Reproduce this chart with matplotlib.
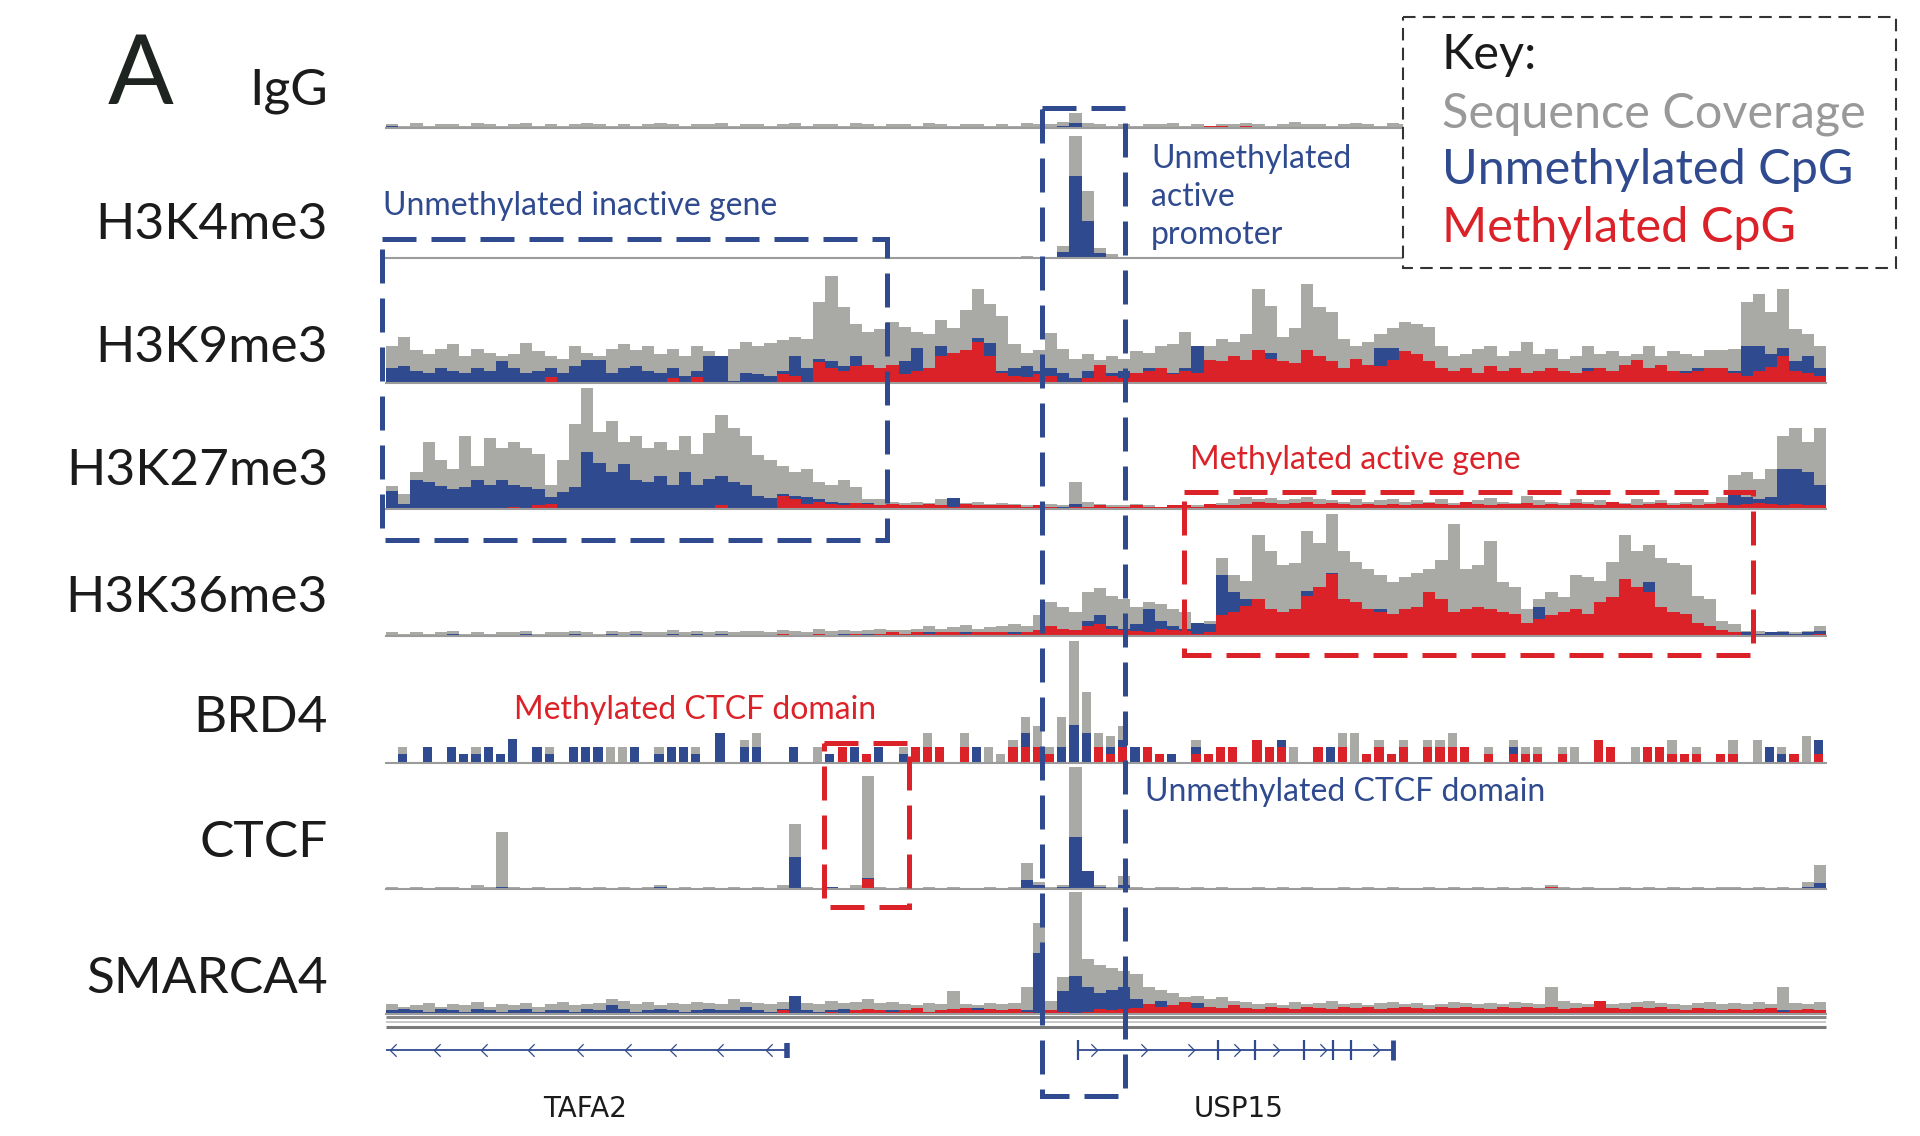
import matplotlib
matplotlib.use("Agg")
import matplotlib.pyplot as plt
from matplotlib.patches import Rectangle
from matplotlib.path import Path

GRAY = "#a9a9a5"
BLUE = "#2f4a8e"
RED = "#dc2229"
FONT = ["Lato", "DejaVu Sans"]

# ---- data: per-bin heights (% of track height), 118 bins across the region ----
track_names = ["IgG", "H3K4me3", "H3K9me3", "H3K27me3", "H3K36me3", "BRD4", "CTCF", "SMARCA4"]

igg_cov = [3,2,4,2,3,3,2,4,3,2, 3,4,2,3,2,3,4,3,2,3, 2,3,4,3,2,3,3,4,2,3,
           3,2,3,4,2,3,3,2,4,3, 2,3,3,2,4,3,2,3,3,2, 3,2,4,3,3,5,12,4,3,2,
           3,2,3,3,4,2,3,2,3,3, 4,3,2,3,5,3,3,2,3,4, 3,2,4,3,2,3,3,2,3,4,
           3,2,3,3,2,4,3,3,2,3, 3,2,3,4,3,2,3,3,2,3, 3,2,3,3,2,3,3,3]
igg_unm = [2,1,1,0,1,0,1,1,0,1, 0,1,0,1,1,0,1,0,1,0, 1,0,1,1,0,1,0,1,0,1,
           1,0,1,0,1,1,0,1,0,1, 0,1,0,1,1,0,1,0,1,0, 0,1,0,1,0,2,4,1,0,0,
           1,0,1,0,0,1,0,1,0,1, 0,1,0,1,0,0,1,0,1,0, 1,0,1,0,1,0,0,1,0,1,
           0,1,0,1,0,1,0,0,1,0, 1,0,0,1,0,1,0,1,0,0, 1,0,1,0,1,0,1,0]
igg_met = [0,0,0,0,0,1,0,0,0,0, 0,0,0,0,1,0,0,0,0,0, 0,0,0,0,0,0,1,0,0,0,
           0,0,0,0,0,0,0,0,0,0, 0,0,1,0,0,0,0,0,1,0, 0,0,1,0,0,0,1,1,0,0,
           0,1,0,0,1,0,0,2,2,1, 2,0,1,0,1,0,0,1,0,0, 1,0,0,1,0,0,1,0,0,1,
           0,0,1,0,0,1,0,0,1,0, 0,1,0,0,1,0,0,1,0,0, 0,1,0,0,1,0,0,1]

k4_cov = [0,0,0,0,0,0,0,0,0,0, 0,0,0,0,0,0,0,0,0,0, 0,0,0,0,0,0,0,0,0,0,
          0,0,0,0,0,0,0,0,0,0, 0,0,0,0,0,0,0,0,0,0, 0,0,2,1,0,10,100,55,8,3,
          0,1,0,0,0,0,0,1,0,0, 0,1,1,0,0,0,0,0,0,0, 0,0,0,0,0,0,0,0,0,0,
          0,0,0,0,0,0,0,0,0,0, 0,0,0,0,0,0,0,0,0,0, 0,0,0,0,0,0,0,0]
k4_unm = [0,0,0,0,0,0,0,0,0,0, 0,0,0,0,0,0,0,0,0,0, 0,0,0,0,0,0,0,0,0,0,
          0,0,0,0,0,0,0,0,0,0, 0,0,0,0,0,0,0,0,0,0, 0,0,1,0,0,5,67,30,4,1,
          0,0,0,0,0,0,0,0,0,0, 0,0,0,0,0,0,0,0,0,0, 0,0,0,0,0,0,0,0,0,0,
          0,0,0,0,0,0,0,0,0,0, 0,0,0,0,0,0,0,0,0,0, 0,0,0,0,0,0,0,0]
k4_met = [0,0,0,0,0,0,0,0,0,0, 0,0,0,0,0,0,0,0,0,0, 0,0,0,0,0,0,0,0,0,0,
          0,0,0,0,0,0,0,0,0,0, 0,0,0,0,0,0,0,0,0,0, 0,0,0,0,0,0,0,0,1,1,
          0,0,0,0,0,0,0,0,0,0, 0,0,0,0,0,0,0,0,0,0, 0,0,0,0,0,0,0,0,0,0,
          0,0,0,0,0,0,0,0,0,0, 0,0,0,0,0,0,0,0,0,0, 0,0,0,0,0,0,0,0]

k9_cov = [30,38,27,24,28,32,22,28,25,22, 24,33,26,22,20,30,25,22,28,32,
          27,30,24,28,22,30,26,18,28,34, 30,33,35,38,36,66,88,62,48,42,
          44,50,46,42,40,52,45,60,77,65, 55,32,25,27,41,28,20,24,19,22,
          20,26,25,30,32,42,30,30,36,34, 40,77,63,38,45,81,62,58,36,30,
          34,40,45,50,48,46,30,22,24,28, 30,22,26,34,24,28,20,22,30,24,
          26,22,24,30,22,26,24,22,27,27, 28,66,73,58,77,44,40,30]
k9_unm = [12,14,10,8,12,10,8,12,10,18, 12,8,10,12,8,14,19,19,8,12,
          14,10,8,12,6,10,22,22,2,8, 7,6,10,22,12,20,18,14,22,12,
          10,12,18,29,10,30,16,22,37,33, 10,12,14,10,12,8,4,10,12,8,
          10,8,12,10,8,12,30,10,8,14, 12,18,25,10,8,27,12,10,6,8,
          10,29,29,20,14,10,8,6,4,6, 5,6,12,6,4,8,4,6,12,6,
          4,6,4,8,6,4,10,12,10,8, 10,30,30,24,29,18,22,12]
k9_met = [0,0,0,0,0,0,0,0,0,0, 0,0,0,5,0,0,0,0,0,0,
          0,0,0,4,0,5,0,0,0,0, 0,0,7,6,0,17,12,10,14,15,
          12,15,7,10,12,22,25,27,34,22, 8,6,5,7,6,0,0,4,15,6,
          4,8,10,12,7,10,8,19,18,22, 19,27,20,18,16,27,22,18,12,20,
          15,14,19,26,24,18,12,10,12,8, 14,10,12,8,10,12,10,8,10,12,
          10,15,19,12,15,10,8,10,12,12, 8,6,10,13,22,10,8,6]

k27_cov = [19,12,30,55,40,33,60,35,58,50, 55,50,45,20,40,70,99,63,72,55,
           60,50,55,48,60,45,62,77,66,60, 44,40,35,30,33,22,20,24,18,8,
           8,6,5,6,5,8,9,5,6,4, 5,4,3,3,4,3,22,6,4,3,
           3,4,3,2,3,2,3,4,5,8, 10,8,9,7,8,10,8,7,6,8,
           6,7,8,6,7,6,8,5,6,7, 9,6,5,11,7,6,5,8,6,7,
           6,5,8,6,7,5,6,8,6,10, 28,30,25,33,60,66,55,66]
k27_unm = [15,4,24,22,19,16,18,24,20,24, 20,18,16,10,14,18,47,38,30,37,
           24,22,27,20,30,20,25,27,22,20, 11,9,12,11,10,8,6,5,4,5,
           3,2,2,3,2,3,9,2,2,2, 2,2,2,2,1,2,4,2,1,1,
           1,2,1,1,2,1,1,1,2,2, 2,1,2,1,2,1,1,2,1,2,
           1,2,1,1,2,1,1,2,1,1, 2,1,1,2,1,1,1,2,1,1,
           1,1,2,1,1,1,2,1,2,2, 12,10,8,10,33,33,30,20]
k27_met = [0,0,0,0,0,0,0,0,0,0, 2,0,3,4,0,0,0,0,0,0,
           0,0,0,0,0,0,0,3,0,0, 0,0,11,8,4,6,4,3,5,4,
           3,4,3,3,4,3,2,4,3,3, 3,3,2,3,2,1,2,2,3,2,
           2,3,2,2,3,3,2,4,3,3, 4,6,5,4,5,6,4,5,4,3,
           4,3,4,3,4,5,4,3,6,4, 3,4,4,5,3,4,3,5,4,3,
           6,4,3,4,5,3,4,3,4,5, 3,4,5,4,3,4,3,3]

k36_cov = [3,2,3,2,3,4,2,3,2,3, 3,4,2,3,3,4,3,2,4,3,
           4,3,3,5,3,4,3,4,3,4, 4,3,5,4,3,6,4,5,4,5,
           6,5,5,6,8,6,7,9,6,7, 8,10,8,17,28,24,20,36,39,33,
           30,24,28,26,22,20,11,12,64,50, 45,83,70,58,60,86,76,100,70,61,
           55,50,44,48,52,55,62,92,55,58, 78,44,40,22,30,36,32,50,48,45,
           61,83,70,75,64,60,58,33,30,12, 10,4,4,3,4,3,4,8]
k36_unm = [1,1,1,1,1,2,1,1,1,1, 1,2,1,1,1,2,1,1,2,1,
           2,1,1,2,1,2,1,2,1,1, 1,1,2,1,1,2,1,2,1,2,
           1,2,1,2,3,2,2,3,2,2, 2,3,2,4,6,3,4,12,17,8,
           6,10,22,12,8,6,11,10,50,36, 30,22,14,10,12,37,30,52,20,12,
           14,22,10,12,14,10,12,10,8,8, 6,8,6,6,24,12,8,6,10,28,
           16,14,20,44,20,18,8,6,4,3, 3,3,2,3,3,2,3,4]
k36_met = [0,1,0,1,0,0,1,0,0,0, 0,1,0,0,1,0,0,1,0,0,
           0,1,0,0,1,0,1,0,0,1, 1,0,2,1,0,2,1,1,2,1,
           2,3,2,3,2,3,3,2,3,3, 3,2,3,5,8,6,5,8,10,6,
           5,4,3,6,5,4,2,3,17,20, 25,30,22,20,22,33,40,51,30,28,
           22,20,18,22,24,36,30,20,22,24, 22,20,18,11,14,17,20,22,18,28,
           32,47,40,36,24,20,18,11,8,5, 3,1,1,1,1,1,1,2]

brd4_cov = [0,13,0,13,0,13,7,13,13,7, 20,0,13,13,0,13,13,13,13,13,
            13,0,13,13,13,13,0,25,0,19, 25,0,0,13,0,13,7,13,13,7,
            13,0,13,13,25,13,0,25,13,13, 7,19,38,30,13,38,100,58,25,22,
            30,13,13,7,7,0,19,7,13,13, 0,19,13,19,13,0,13,13,25,25,
            7,19,7,19,0,19,19,25,13,0, 13,0,19,13,13,0,13,13,0,19,
            13,0,13,13,13,19,7,13,0,7, 19,0,19,13,13,7,22,19]
brd4_unm = [0,7,0,13,0,13,7,7,13,7, 20,0,13,7,0,13,13,13,0,0,
            13,0,7,13,13,7,0,25,0,13, 13,0,0,13,0,0,7,0,13,0,
            13,0,7,0,13,7,0,0,13,0, 0,0,25,0,0,13,31,25,13,13,
            19,13,0,0,7,0,13,0,0,7, 0,0,7,19,0,0,0,13,0,0,
            0,0,0,0,0,0,0,0,0,0, 7,0,13,0,0,0,7,0,0,0,
            0,0,0,0,0,0,0,0,0,0, 0,0,0,13,7,0,0,19]
brd4_met = [0,0,0,0,0,0,0,0,0,0, 0,0,0,0,0,0,0,0,0,0,
            0,0,0,0,0,0,0,0,0,0, 0,0,0,0,0,0,0,13,0,7,
            0,0,0,13,13,13,0,13,0,0, 0,13,13,13,7,0,0,0,13,7,
            13,0,13,7,0,0,7,7,13,13, 0,19,13,13,0,0,13,0,13,0,
            7,13,7,13,0,13,13,13,13,0, 7,0,7,7,7,0,7,0,0,19,
            13,0,0,13,13,7,7,7,0,7, 7,0,0,0,0,7,0,7]

ctcf_cov = [2,1,2,1,2,2,1,3,2,47, 2,1,2,1,1,2,1,2,1,2,
            1,2,3,1,2,1,2,1,2,1, 2,1,3,53,2,1,2,1,3,93,
            2,1,2,1,2,1,2,1,1,2, 1,2,21,6,2,3,100,15,3,2,
            11,2,1,2,2,1,2,1,2,1, 1,2,1,2,1,2,1,1,2,1,
            2,1,2,1,1,2,1,2,1,2, 1,2,1,2,1,3,2,1,2,1,
            1,2,1,2,1,2,1,2,1,2, 2,1,2,1,2,1,6,20]
ctcf_unm = [1,0,1,0,1,0,1,0,1,2, 0,1,0,1,0,0,1,0,1,0,
            1,0,2,0,1,0,1,0,1,0, 1,0,1,26,1,0,2,0,1,9,
            1,0,1,0,1,0,1,0,1,0, 0,1,7,3,1,2,43,15,2,1,
            3,1,0,1,1,0,1,0,1,0, 0,1,0,1,0,0,1,0,0,1,
            0,0,1,0,0,1,0,0,1,0, 0,1,0,0,0,1,0,0,1,0,
            0,1,0,0,1,0,0,1,0,0, 1,0,1,0,1,0,2,5]
ctcf_met = [0,0,0,0,0,0,0,0,0,0, 0,0,0,0,0,0,0,0,0,0,
            0,0,0,0,0,0,0,0,0,0, 0,0,1,0,0,0,0,0,0,8,
            0,0,0,0,1,0,0,1,0,1, 1,0,0,1,0,1,0,0,0,1,
            0,1,0,1,0,1,0,1,0,1, 1,0,1,0,1,0,1,0,1,0,
            1,0,1,0,1,1,0,1,0,1, 0,1,0,1,0,2,1,0,1,0,
            1,0,1,0,1,0,1,0,1,0, 0,1,0,1,0,1,0,0]

smarca4_cov = [8,6,7,9,6,8,7,10,6,8, 7,9,6,8,10,7,8,9,12,11,
               8,10,7,9,8,10,9,8,12,10, 9,8,10,15,9,8,11,9,10,12,
               9,10,8,7,9,8,19,8,7,9, 8,9,22,75,11,30,100,45,40,38,
               35,33,22,20,17,14,15,12,14,11, 10,8,9,7,10,8,9,11,8,9,
               7,9,10,8,9,7,8,10,9,8, 9,8,10,9,8,22,11,9,8,10,
               8,9,10,11,9,8,7,9,10,8, 9,8,10,8,22,9,8,10]
smarca4_unm = [3,4,3,2,4,3,2,4,3,2, 3,4,2,3,3,2,4,3,7,4,
               2,3,4,3,2,3,4,3,3,6, 3,2,4,15,3,2,3,4,3,3,
               2,3,2,2,1,2,2,1,5,2, 1,2,3,50,3,19,31,22,17,20,
               22,12,8,11,5,3,9,4,3,2, 1,2,1,2,1,2,1,2,1,1,
               2,1,1,2,1,1,2,1,2,1, 1,2,1,1,2,4,1,2,1,1,
               2,1,1,2,1,3,1,2,4,2, 1,3,2,1,3,2,1,3]
smarca4_met = [0,0,0,0,0,0,0,0,0,0, 0,0,0,0,0,1,0,0,0,0,
               0,0,0,1,0,0,0,0,0,1, 0,0,3,1,0,0,2,1,3,4,
               3,2,3,5,2,3,4,5,3,4, 3,4,2,1,3,2,1,2,4,3,
               4,5,8,6,7,10,5,6,5,7, 5,4,6,5,4,6,5,4,6,5,
               6,4,5,6,5,4,6,5,6,5, 4,6,5,6,5,6,4,5,6,11,
               5,4,6,5,6,4,3,5,4,3, 4,3,4,5,2,3,4,3]

coverage = [igg_cov, k4_cov, k9_cov, k27_cov, k36_cov, brd4_cov, ctcf_cov, smarca4_cov]
unmethylated = [igg_unm, k4_unm, k9_unm, k27_unm, k36_unm, brd4_unm, ctcf_unm, smarca4_unm]
methylated = [igg_met, k4_met, k9_met, k27_met, k36_met, brd4_met, ctcf_met, smarca4_met]

# gene models, in bin units
tafa2_span = (0.0, 32.9)
tafa2_chevrons = [0.6, 4.2, 8.0, 11.9, 15.9, 19.8, 23.5, 27.4, 31.4]
usp15_span = (56.7, 82.5)
usp15_exons = [56.7, 68.2, 71.2, 75.2, 77.6, 79.1]
usp15_chevrons = [58.0, 62.1, 66.0, 69.7, 72.9, 76.8, 81.1]

# ---- layout (figure pixels) ----
W, H = 1920, 1136
TRACK_X0, TRACK_W, TRACK_H = 386, 1440, 122
baselines = [128, 258, 383, 509, 636, 763, 889, 1014]
label_baselines = [104, 239, 362, 485, 612, 732, 857, 993]
bar_widths = [1.0, 1.0, 1.0, 1.0, 1.0, 0.75, 1.0, 1.0]
NBINS = 118

fig = plt.figure(figsize=(W / 100, H / 100), dpi=100)
fig.patch.set_facecolor("white")

for i, name in enumerate(track_names):
    base = baselines[i]
    ax = fig.add_axes([TRACK_X0 / W, 1 - base / H, TRACK_W / W, TRACK_H / H])
    ax.set_xlim(0, NBINS)
    ax.set_ylim(0, 100)
    ax.axis("off")
    x = list(range(NBINS))
    bw = bar_widths[i]
    ax.bar(x, coverage[i], width=bw, align="edge", color=GRAY, linewidth=0)
    ax.bar(x, unmethylated[i], width=bw, align="edge", color=BLUE, linewidth=0)
    ax.bar(x, methylated[i], width=bw, align="edge", color=RED, linewidth=0)
    ax.axhline(0, color="#9b9b9b", lw=1.5, clip_on=False)
    fig.text(328 / W, 1 - label_baselines[i] / H, name, ha="right", va="baseline",
             fontsize=37, color="#1b1b1b", family=FONT)

fig.text(108 / W, 1 - 104 / H, "A", ha="left", va="baseline", fontsize=70,
         color="#1e2420", family=FONT)

# gene track
ga = fig.add_axes([TRACK_X0 / W, 1 - 1075 / H, TRACK_W / W, 50 / H])
ga.set_xlim(0, NBINS)
ga.set_ylim(-1, 1)
ga.axis("off")
chev_left = Path([(0.5, 1), (-0.5, 0), (0.5, -1)], [Path.MOVETO, Path.LINETO, Path.LINETO])
chev_right = Path([(-0.5, 1), (0.5, 0), (-0.5, -1)], [Path.MOVETO, Path.LINETO, Path.LINETO])
ga.plot(tafa2_span, [0, 0], color=BLUE, lw=1.3)
ga.plot(tafa2_chevrons, [0] * len(tafa2_chevrons), ls="none", marker=chev_left,
        ms=9, mfc="none", mec=BLUE, mew=0.9)
ga.vlines(tafa2_span[1], -0.3, 0.3, color=BLUE, lw=4)
ga.plot(usp15_span, [0, 0], color=BLUE, lw=1.3)
ga.plot(usp15_chevrons, [0] * len(usp15_chevrons), ls="none", marker=chev_right,
        ms=9, mfc="none", mec=BLUE, mew=0.9)
ga.vlines(usp15_exons, -0.4, 0.4, color=BLUE, lw=1.6)
ga.vlines(usp15_span[1], -0.4, 0.4, color=BLUE, lw=3.5)

# overlay for boxes and annotations (figure pixel coordinates)
ov = fig.add_axes([0, 0, 1, 1])
ov.set_xlim(0, W)
ov.set_ylim(H, 0)
ov.axis("off")
ov.patch.set_alpha(0)

# SMARCA4 base band
for yy, c, lw in [(1017, "#8a8a8a", 2.2), (1022, "#c8c8c8", 1.4), (1027, "#7a7a7a", 2.2)]:
    ov.plot([TRACK_X0, TRACK_X0 + TRACK_W], [yy, yy], color=c, lw=lw, solid_capstyle="butt")

dash = (0, (6.8, 3.0))
boxes = [
    ((382, 239), 505, 301, BLUE),    # unmethylated inactive gene
    ((1042, 108), 83, 988, BLUE),    # unmethylated active promoter
    ((1184, 492), 569, 163, RED),    # methylated active gene
    ((824, 743), 85, 164, RED),      # methylated CTCF domain
]
for (xy, w, h, c) in boxes:
    ov.add_patch(Rectangle(xy, w, h, fill=False, edgecolor=c, lw=3.6, ls=dash, zorder=5))

ann_kw = dict(fontsize=23, family=FONT, va="center", ha="left")
ov.text(383, 206, "Unmethylated inactive gene", color=BLUE, **ann_kw)
ov.text(1151, 159, "Unmethylated", color=BLUE, **ann_kw)
ov.text(1151, 197, "active", color=BLUE, **ann_kw)
ov.text(1151, 235, "promoter", color=BLUE, **ann_kw)
ov.text(1190, 460, "Methylated active gene", color=RED, **ann_kw)
ov.text(514, 710, "Methylated CTCF domain", color=RED, **ann_kw)
ov.text(1145, 792, "Unmethylated CTCF domain", color=BLUE, **ann_kw)

gene_kw = dict(fontsize=20, family=["Liberation Sans Narrow", "DejaVu Sans"],
               ha="center", va="center", color="#1b1b1b")
ov.text(585, 1109, "TAFA2", **gene_kw)
ov.text(1239, 1109, "USP15", **gene_kw)

# key
ov.add_patch(Rectangle((1403, 17), 493, 251, facecolor="white", edgecolor="#333333",
                       lw=1.5, ls=(0, (6, 3.5)), zorder=6))
key_kw = dict(fontsize=35, family=FONT, va="center", ha="left", zorder=7)
ov.text(1442, 55, "Key:", color="#1b1b1b", **key_kw)
ov.text(1442, 114, "Sequence Coverage", color="#999999", **key_kw)
ov.text(1442, 170, "Unmethylated CpG", color=BLUE, **key_kw)
ov.text(1442, 228, "Methylated CpG", color=RED, **key_kw)

fig.savefig("out.png", dpi=100, facecolor="white")
